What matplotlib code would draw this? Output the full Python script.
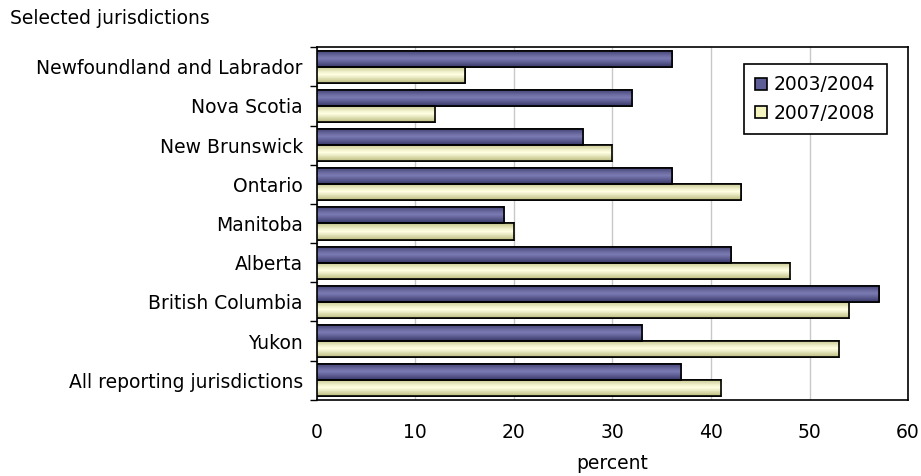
import numpy as np
import matplotlib.pyplot as plt
from matplotlib.colors import LinearSegmentedColormap

jurisdictions = ['Newfoundland and Labrador', 'Nova Scotia', 'New Brunswick', 'Ontario',
                 'Manitoba', 'Alberta', 'British Columbia', 'Yukon', 'All reporting jurisdictions']
y2003 = [36, 32, 27, 36, 19, 42, 57, 33, 37]
y2007 = [15, 12, 30, 43, 20, 48, 54, 53, 41]
xticks = [0, 10, 20, 30, 40, 50, 60]

fs = 13.5
fig = plt.figure(figsize=(9.21, 4.76), dpi=100)
fig.subplots_adjust(left=0.344, right=0.986, top=0.901, bottom=0.160)
ax = fig.add_subplot(111)

pos = np.arange(len(jurisdictions))
h = 0.41
b1 = ax.barh(pos - h/2, y2003, height=h, color='#5E5E96', edgecolor='black', linewidth=1.2,
             label='2003/2004', zorder=3)
b2 = ax.barh(pos + h/2, y2007, height=h, color='#F4F4C0', edgecolor='black', linewidth=1.2,
             label='2007/2008', zorder=3)

# 3d-ish shading on the bars
grad = np.array([0, 0.35, 0.7, 1.0, 0.8, 0.45, 0.1]).reshape(-1, 1)
cm1 = LinearSegmentedColormap.from_list('d', ['#404072', '#7a7ab2'])
cm2 = LinearSegmentedColormap.from_list('y', ['#c4c48c', '#ffffe2'])
for bars, cm in ((b1, cm1), (b2, cm2)):
    for r in bars:
        x0, yb = r.get_x(), r.get_y()
        im = ax.imshow(grad, cmap=cm, aspect='auto', interpolation='bilinear',
                       extent=[x0, x0 + r.get_width(), yb, yb + r.get_height()], zorder=3.5)
        im.set_clip_path(r)
    for r in bars:
        ax.add_patch(plt.Rectangle((r.get_x(), r.get_y()), r.get_width(), r.get_height(),
                                   fill=False, edgecolor='black', linewidth=1.2, zorder=4))

ax.set_xlim(0, 60)
ax.set_ylim(len(jurisdictions) - 0.5, -0.5)
ax.set_xticks(xticks)
ax.set_yticks(pos)
ax.set_yticklabels(jurisdictions)
ax.set_yticks(np.arange(len(jurisdictions) + 1) - 0.5, minor=True)
ax.tick_params(axis='y', which='major', length=0, pad=10, labelsize=fs)
ax.tick_params(axis='y', which='minor', length=5, width=1, direction='out')
ax.tick_params(axis='x', length=0, pad=17, labelsize=fs)
ax.grid(axis='x', color='#c8c8c8', linewidth=1, zorder=0)
ax.set_axisbelow(True)
for s in ax.spines.values():
    s.set_color('black')
    s.set_linewidth(1.2)

ax.set_xlabel('percent', fontsize=fs, labelpad=8)
fig.text(0.011, 0.962, 'Selected jurisdictions', fontsize=fs, ha='left', va='center')

leg = ax.legend(loc='upper right', bbox_to_anchor=(0.964, 0.952), fontsize=fs,
                frameon=True, fancybox=False, edgecolor='black', framealpha=1,
                handlelength=0.6, handleheight=0.6, handletextpad=0.4, borderpad=0.6,
                labelspacing=0.5, borderaxespad=0)
leg.get_frame().set_linewidth(1.2)

fig.savefig('out.png', dpi=100)
